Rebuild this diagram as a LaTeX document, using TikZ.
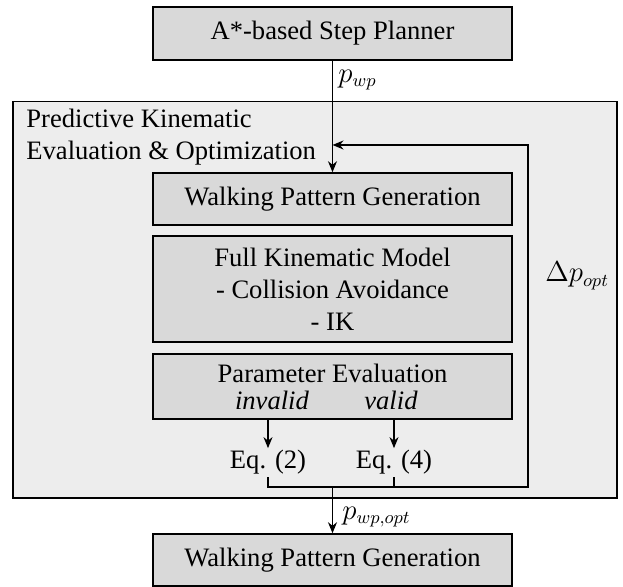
\documentclass[tikz,border=0pt]{standalone}
\usepackage{fontspec}
\setmainfont{Liberation Serif}
\usetikzlibrary{arrows.meta}
\begin{document}
\begin{tikzpicture}[x=1pt,y=1pt,
  font=\fontsize{13.3}{16}\selectfont,
  block/.style={draw=drawColor,fill=boxColor,line width=0.75pt,minimum width=179.5pt,inner sep=0pt,align=center},
  lbl/.style={text=drawColor,inner sep=0pt},
  conn/.style={draw=drawColor,line width=0.75pt},
  arr/.style={conn,-{Stealth[length=5.5pt,width=4.5pt]}}]
\definecolor{drawColor}{RGB}{0,0,0}
\definecolor{boxColor}{RGB}{217,217,217}
\definecolor{outerColor}{RGB}{237,237,237}
\path[use as bounding box,fill=white] (0,0) rectangle (311.5,293.5);

% outer frame
\node[draw=drawColor,fill=outerColor,line width=0.75pt,minimum width=302pt,minimum height=198.15pt,inner sep=0pt] (outer) at (157.5,143.58) {};
\node[lbl,anchor=north west,align=left] (title) at (13,239.1) {Predictive Kinematic\\Evaluation \& Optimization};

% blocks
\node[block,minimum height=26.5pt] (plan) at (166.25,276.75) {A*-based Step Planner};
\node[block,minimum height=26pt] (wpg) at (166.25,194) {Walking Pattern Generation};
\node[block,minimum height=53pt] (fkm) at (166.25,149) {Full Kinematic Model\\- Collision Avoidance\\- IK};
\node[block,minimum height=32.5pt] (pe) at (166.25,100.25) {};
\node[lbl,anchor=base] (petitle) at (166.25,102) {Parameter Evaluation};
\node[lbl,anchor=base] (inv) at (136,88.5) {\textit{invalid}};
\node[lbl,anchor=base] (val) at (195.5,88.5) {\textit{valid}};
\node[block,minimum height=26pt] (wpgout) at (166.25,13.5) {Walking Pattern Generation};

% equations
\node[lbl,anchor=base,inner sep=1pt] (eq2) at (134,59) {Eq. (2)};
\node[lbl,anchor=base,inner sep=1pt] (eq4) at (197,59) {Eq. (4)};

% labels
\node[lbl,anchor=west] (pwp) at (169,253.5) {$p_{wp}$};
\node[lbl,anchor=west] (pwpopt) at (171,35) {$p_{wp,opt}$};
\node[lbl,anchor=west] (dpopt) at (272.5,155.5) {$\Delta p_{opt}$};

% connectors
\coordinate (fbb) at (264,50);
\coordinate (fbt) at (264,221);
\draw[arr] (plan.south) -- (wpg.north);
\draw[arr] (pe.south -| eq2) -- (eq2.north);
\draw[arr] (pe.south -| eq4) -- (eq4.north);
\draw[arr] (eq2.south) |- (fbb) -- (fbt) -- (fbt -| plan.south);
\draw[conn] (eq4.south) -- (eq4.south |- fbb);
\draw[arr] (plan.south |- fbb) -- (wpgout.north);
\end{tikzpicture}
\end{document}
